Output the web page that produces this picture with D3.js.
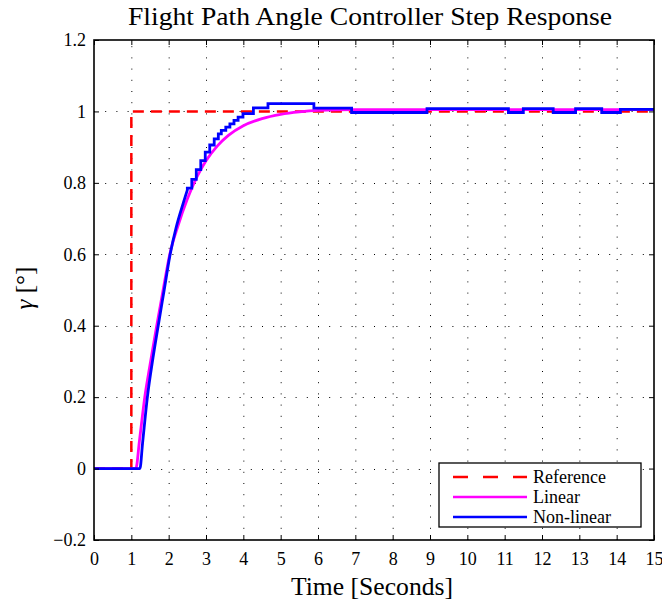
<!DOCTYPE html>
<html>
<head>
<meta charset="utf-8">
<script src="https://cdn.jsdelivr.net/npm/d3@7/dist/d3.min.js"></script>
<style>
  html, body { margin: 0; padding: 0; background: #fff; }
  svg { display: block; }
  svg text { font-family: "Liberation Serif", "DejaVu Serif", serif !important; fill: #000; }
</style>
</head>
<body>
<svg id="chart" width="662" height="605"></svg>
<script>
// Axis ticks
const xTickValues = [0, 1, 2, 3, 4, 5, 6, 7, 8, 9, 10, 11, 12, 13, 14, 15];
const yTickValues = [-0.2, 0, 0.2, 0.4, 0.6, 0.8, 1, 1.2];
const yTickLabels = ["\u22120.2", "0", "0.2", "0.4", "0.6", "0.8", "1", "1.2"];

// Reference command: step from 0 to 1 at t = 1 s
const refTime  = [0, 1, 1, 15];
const refValue = [0, 0, 1, 1];

// Linear model response
const linTime  = [0, 1.12, 1.22, 1.36, 1.5, 1.68, 1.86, 2.03, 2.25, 2.5, 2.75, 3.0, 3.3, 3.6, 4.0, 4.5, 5.0, 5.5, 6.0, 7.0, 15];
const linValue = [0, 0, 0.08, 0.2, 0.29, 0.4, 0.505, 0.6, 0.68, 0.755, 0.815, 0.862, 0.903, 0.933, 0.96, 0.98, 0.992, 0.999, 1.003, 1.005, 1.005];

// Non-linear simulation output: continuous rise, then sample-and-hold segments
const nlRiseTime  = [0, 1.23, 1.3, 1.43, 1.58, 1.72, 1.88, 2.04, 2.2, 2.38, 2.5];
const nlRiseValue = [0, 0, 0.07, 0.2, 0.31, 0.4, 0.5, 0.6, 0.675, 0.74, 0.78];
const nlHoldTime  = [2.5, 2.62, 2.74, 2.86, 2.98, 3.10, 3.22, 3.33, 3.41, 3.53, 3.64, 3.75, 3.86, 3.99, 4.27, 4.66, 5.89, 6.9, 8.92, 11.1, 11.5, 12.3, 12.9, 13.6, 14.1, 15];
const nlHoldValue = [0.785, 0.81, 0.837, 0.862, 0.886, 0.906, 0.923, 0.937, 0.947, 0.956, 0.965, 0.975, 0.984, 0.994, 1.01, 1.022, 1.009, 0.997, 1.008, 0.997, 1.008, 0.997, 1.008, 0.997, 1.006, 1.006];

const seriesNames = ["Reference", "Linear", "Non-linear"];
const seriesColors = ["#ff0000", "#ff00ff", "#0000ff"];

const FONT = "Liberation Serif, DejaVu Serif, serif";
const svg = d3.select("#chart");
const margin = { left: 94, right: 8, top: 40, bottom: 65 };
const W = 662, H = 605;
const x = d3.scaleLinear().domain([0, 15]).range([margin.left, W - margin.right]);
const y = d3.scaleLinear().domain([-0.2, 1.2]).range([H - margin.bottom, margin.top]);

const x0 = x.range()[0], x1 = x.range()[1];
const yTop = y.range()[1], yBot = y.range()[0];

// Dotted grid
const grid = svg.append("g").attr("stroke", "#000").attr("stroke-width", 1).attr("stroke-dasharray", "1,10.2");
grid.selectAll("line.gx").data(xTickValues.slice(1, -1)).enter().append("line")
  .attr("x1", d => x(d) + 0.5).attr("x2", d => x(d) + 0.5).attr("y1", yBot).attr("y2", yTop);
grid.selectAll("line.gy").data(yTickValues.slice(1, -1)).enter().append("line")
  .attr("y1", d => Math.round(y(d)) + 0.5).attr("y2", d => Math.round(y(d)) + 0.5).attr("x1", x0).attr("x2", x1);

// Clip for data lines
svg.append("clipPath").attr("id", "plotclip").append("rect")
  .attr("x", x0).attr("y", yTop).attr("width", x1 - x0).attr("height", yBot - yTop);

const plot = svg.append("g").attr("clip-path", "url(#plotclip)").attr("fill", "none");

const zipPts = (t, v) => t.map((d, i) => [d, v[i]]);
const lineLin = d3.line().x(d => x(d[0])).y(d => y(d[1]));
const lineSmooth = d3.line().x(d => x(d[0])).y(d => y(d[1])).curve(d3.curveMonotoneX);
const lineStep = d3.line().x(d => x(d[0])).y(d => y(d[1])).curve(d3.curveStepAfter);

plot.append("path").attr("d", lineLin(zipPts(refTime, refValue)))
  .attr("stroke", seriesColors[0]).attr("stroke-width", 2.5).attr("stroke-dasharray", "11,7");
plot.append("path").attr("d", lineSmooth(zipPts(linTime, linValue)))
  .attr("stroke", seriesColors[1]).attr("stroke-width", 2.8);
// Non-linear: smooth rise joined to the held samples in one path
const risePath = lineSmooth(zipPts(nlRiseTime, nlRiseValue));
const holdPath = lineStep(zipPts(nlHoldTime, nlHoldValue)).replace(/^M/, "L");
plot.append("path").attr("d", risePath + holdPath)
  .attr("stroke", seriesColors[2]).attr("stroke-width", 2.8).attr("stroke-linejoin", "miter");

// Axes (ticks inside, on all four sides)
const tickLen = 5;
const xAxisB = d3.axisBottom(x).tickValues(xTickValues).tickSizeInner(-tickLen).tickSizeOuter(0).tickPadding(12).tickFormat(d3.format("d"));
const xAxisT = d3.axisTop(x).tickValues(xTickValues).tickSizeInner(-tickLen).tickSizeOuter(0).tickFormat("");
const yAxisL = d3.axisLeft(y).tickValues(yTickValues).tickSizeInner(-tickLen).tickSizeOuter(0).tickPadding(8)
  .tickFormat((d, i) => yTickLabels[i]);
const yAxisR = d3.axisRight(y).tickValues(yTickValues).tickSizeInner(-tickLen).tickSizeOuter(0).tickFormat("");

function styleAxis(g) {
  g.attr("font-family", FONT).attr("font-size", 18);
  g.select(".domain").remove();
  g.selectAll(".tick line").attr("stroke", "#000").attr("stroke-width", 1);
  g.selectAll(".tick text").attr("font-size", 18).attr("fill", "#000");
}
svg.append("g").attr("transform", `translate(0,${yBot})`).call(xAxisB).call(styleAxis);
svg.append("g").attr("transform", `translate(0,${yTop})`).call(xAxisT).call(styleAxis);
svg.append("g").attr("transform", `translate(${x0},0)`).call(yAxisL).call(styleAxis);
svg.append("g").attr("transform", `translate(${x1},0)`).call(yAxisR).call(styleAxis);

// Frame
svg.append("rect").attr("x", x0).attr("y", yTop).attr("width", x1 - x0).attr("height", yBot - yTop)
  .attr("fill", "none").attr("stroke", "#000").attr("stroke-width", 1.6);

// Title and axis labels
svg.append("text").attr("x", 370).attr("y", 25).attr("text-anchor", "middle")
  .attr("font-family", FONT).attr("font-size", 25)
  .attr("textLength", 484).attr("lengthAdjust", "spacingAndGlyphs")
  .text("Flight Path Angle Controller Step Response");
svg.append("text").attr("x", 372).attr("y", 595).attr("text-anchor", "middle")
  .attr("font-family", FONT).attr("font-size", 25)
  .attr("textLength", 162).attr("lengthAdjust", "spacingAndGlyphs")
  .text("Time [Seconds]");
const yl = svg.append("text").attr("transform", `translate(33,${(yTop + yBot) / 2 - 2}) rotate(-90)`).attr("text-anchor", "middle")
  .attr("font-family", FONT).attr("font-size", 25);
yl.append("tspan").attr("font-style", "italic").text("\u03b3");
yl.append("tspan").text(" [\u00b0]");

// Legend
const lg = svg.append("g");
const lgX = 439, lgY = 463, lgW = 202, lgH = 64;
lg.append("rect").attr("x", lgX).attr("y", lgY).attr("width", lgW).attr("height", lgH)
  .attr("fill", "#fff").attr("stroke", "#000").attr("stroke-width", 1.3);
seriesNames.forEach((name, i) => {
  const yy = lgY + 14 + i * 20;
  const ln = lg.append("line").attr("x1", lgX + 14).attr("x2", lgX + 88).attr("y1", yy).attr("y2", yy)
    .attr("stroke", seriesColors[i]).attr("stroke-width", 2.5);
  if (i === 0) ln.attr("stroke-dasharray", "15,15");
  lg.append("text").attr("x", lgX + 94).attr("y", yy + 5.5).attr("font-family", FONT).attr("font-size", 18).text(name);
});
</script>
</body>
</html>
